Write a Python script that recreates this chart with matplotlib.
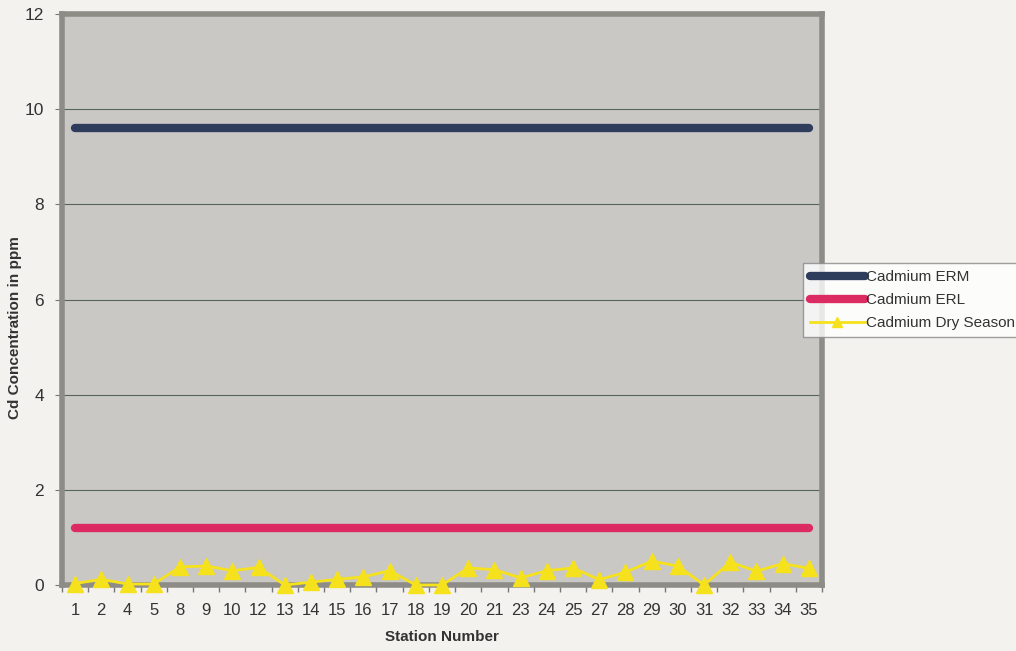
import numpy as np
from matplotlib import pyplot as plt

plt.rcParams["font.family"] = ["Liberation Sans", "DejaVu Sans"]

# station numbers on the x axis
stations = ["1", "2", "4", "5", "8", "9", "10", "12", "13", "14", "15", "16", "17", "18", "19",
            "20", "21", "23", "24", "25", "27", "28", "29", "30", "31", "32", "33", "34", "35"]
# sediment guideline levels (ppm)
erm = [9.6] * len(stations)
erl = [1.2] * len(stations)
# dry season cadmium readings
dry = [0.03, 0.12, 0.02, 0.02, 0.38, 0.40, 0.30, 0.37, 0.0, 0.06, 0.12, 0.17, 0.30, 0.0, 0.0,
       0.36, 0.32, 0.15, 0.30, 0.36, 0.11, 0.27, 0.50, 0.40, 0.0, 0.48, 0.29, 0.45, 0.35]

W, H = 1016, 651
fig = plt.figure(figsize=(W / 100, H / 100), dpi=100)
fig.patch.set_facecolor("#f4f2ee")

ax = fig.add_axes([62 / W, (H - 585) / H, 760 / W, (585 - 14) / H])
ax.set_facecolor("#c9c8c5")

x = np.arange(len(stations))
ax.plot(x, erm, color="#2e3d5c", lw=6, solid_capstyle="round", label="Cadmium ERM", zorder=3)
ax.plot(x, erl, color="#dc2a62", lw=6, solid_capstyle="round", label="Cadmium ERL", zorder=3)
ax.plot(x, dry, color="#f6e21c", lw=2, marker="^", markersize=11, markeredgecolor="#f6e21c",
        label="Cadmium Dry Season", zorder=4, clip_on=False)

ax.set_xlim(-0.5, len(stations) - 0.5)
ax.set_ylim(0, 12)
ax.set_yticks(range(0, 13, 2))
ax.yaxis.grid(True, color="#55655a", lw=0.8)
ax.set_axisbelow(True)

ax.set_xticks(x)
ax.set_xticklabels(stations)
ax.set_xticks(np.arange(-0.5, len(stations), 1), minor=True)
ax.tick_params(axis="x", which="major", length=0, pad=13, labelsize=12, labelcolor="#333333")
ax.tick_params(axis="x", which="minor", length=5, color="#777777", width=1)
ax.tick_params(axis="y", length=5, color="#777777", labelsize=12.5, labelcolor="#333333", pad=8)

for s in ax.spines.values():
    s.set_color("#8d8c87")
    s.set_linewidth(4)

ax.set_xlabel("Station Number", fontsize=11, fontweight="bold", color="#333333")
ax.xaxis.set_label_coords(0.5, -0.078)
ax.set_ylabel("Cd Concentration in ppm", fontsize=11, fontweight="bold", color="#333333")
ax.yaxis.set_label_coords(-0.052, 0.45)

leg = fig.legend(loc="upper left", bbox_to_anchor=(803 / W, 1 - 263 / H), fontsize=11,
                 handlelength=3.6, handletextpad=0.1, frameon=True, fancybox=False,
                 borderpad=0.45, labelspacing=0.6, borderaxespad=0)
leg.get_frame().set_edgecolor("#888888")
leg.get_frame().set_facecolor("white")
leg.legend_handles[2].set_markersize(7)
for t in leg.get_texts():
    t.set_color("#333333")

fig.savefig("out.png", dpi=100, facecolor=fig.get_facecolor())
